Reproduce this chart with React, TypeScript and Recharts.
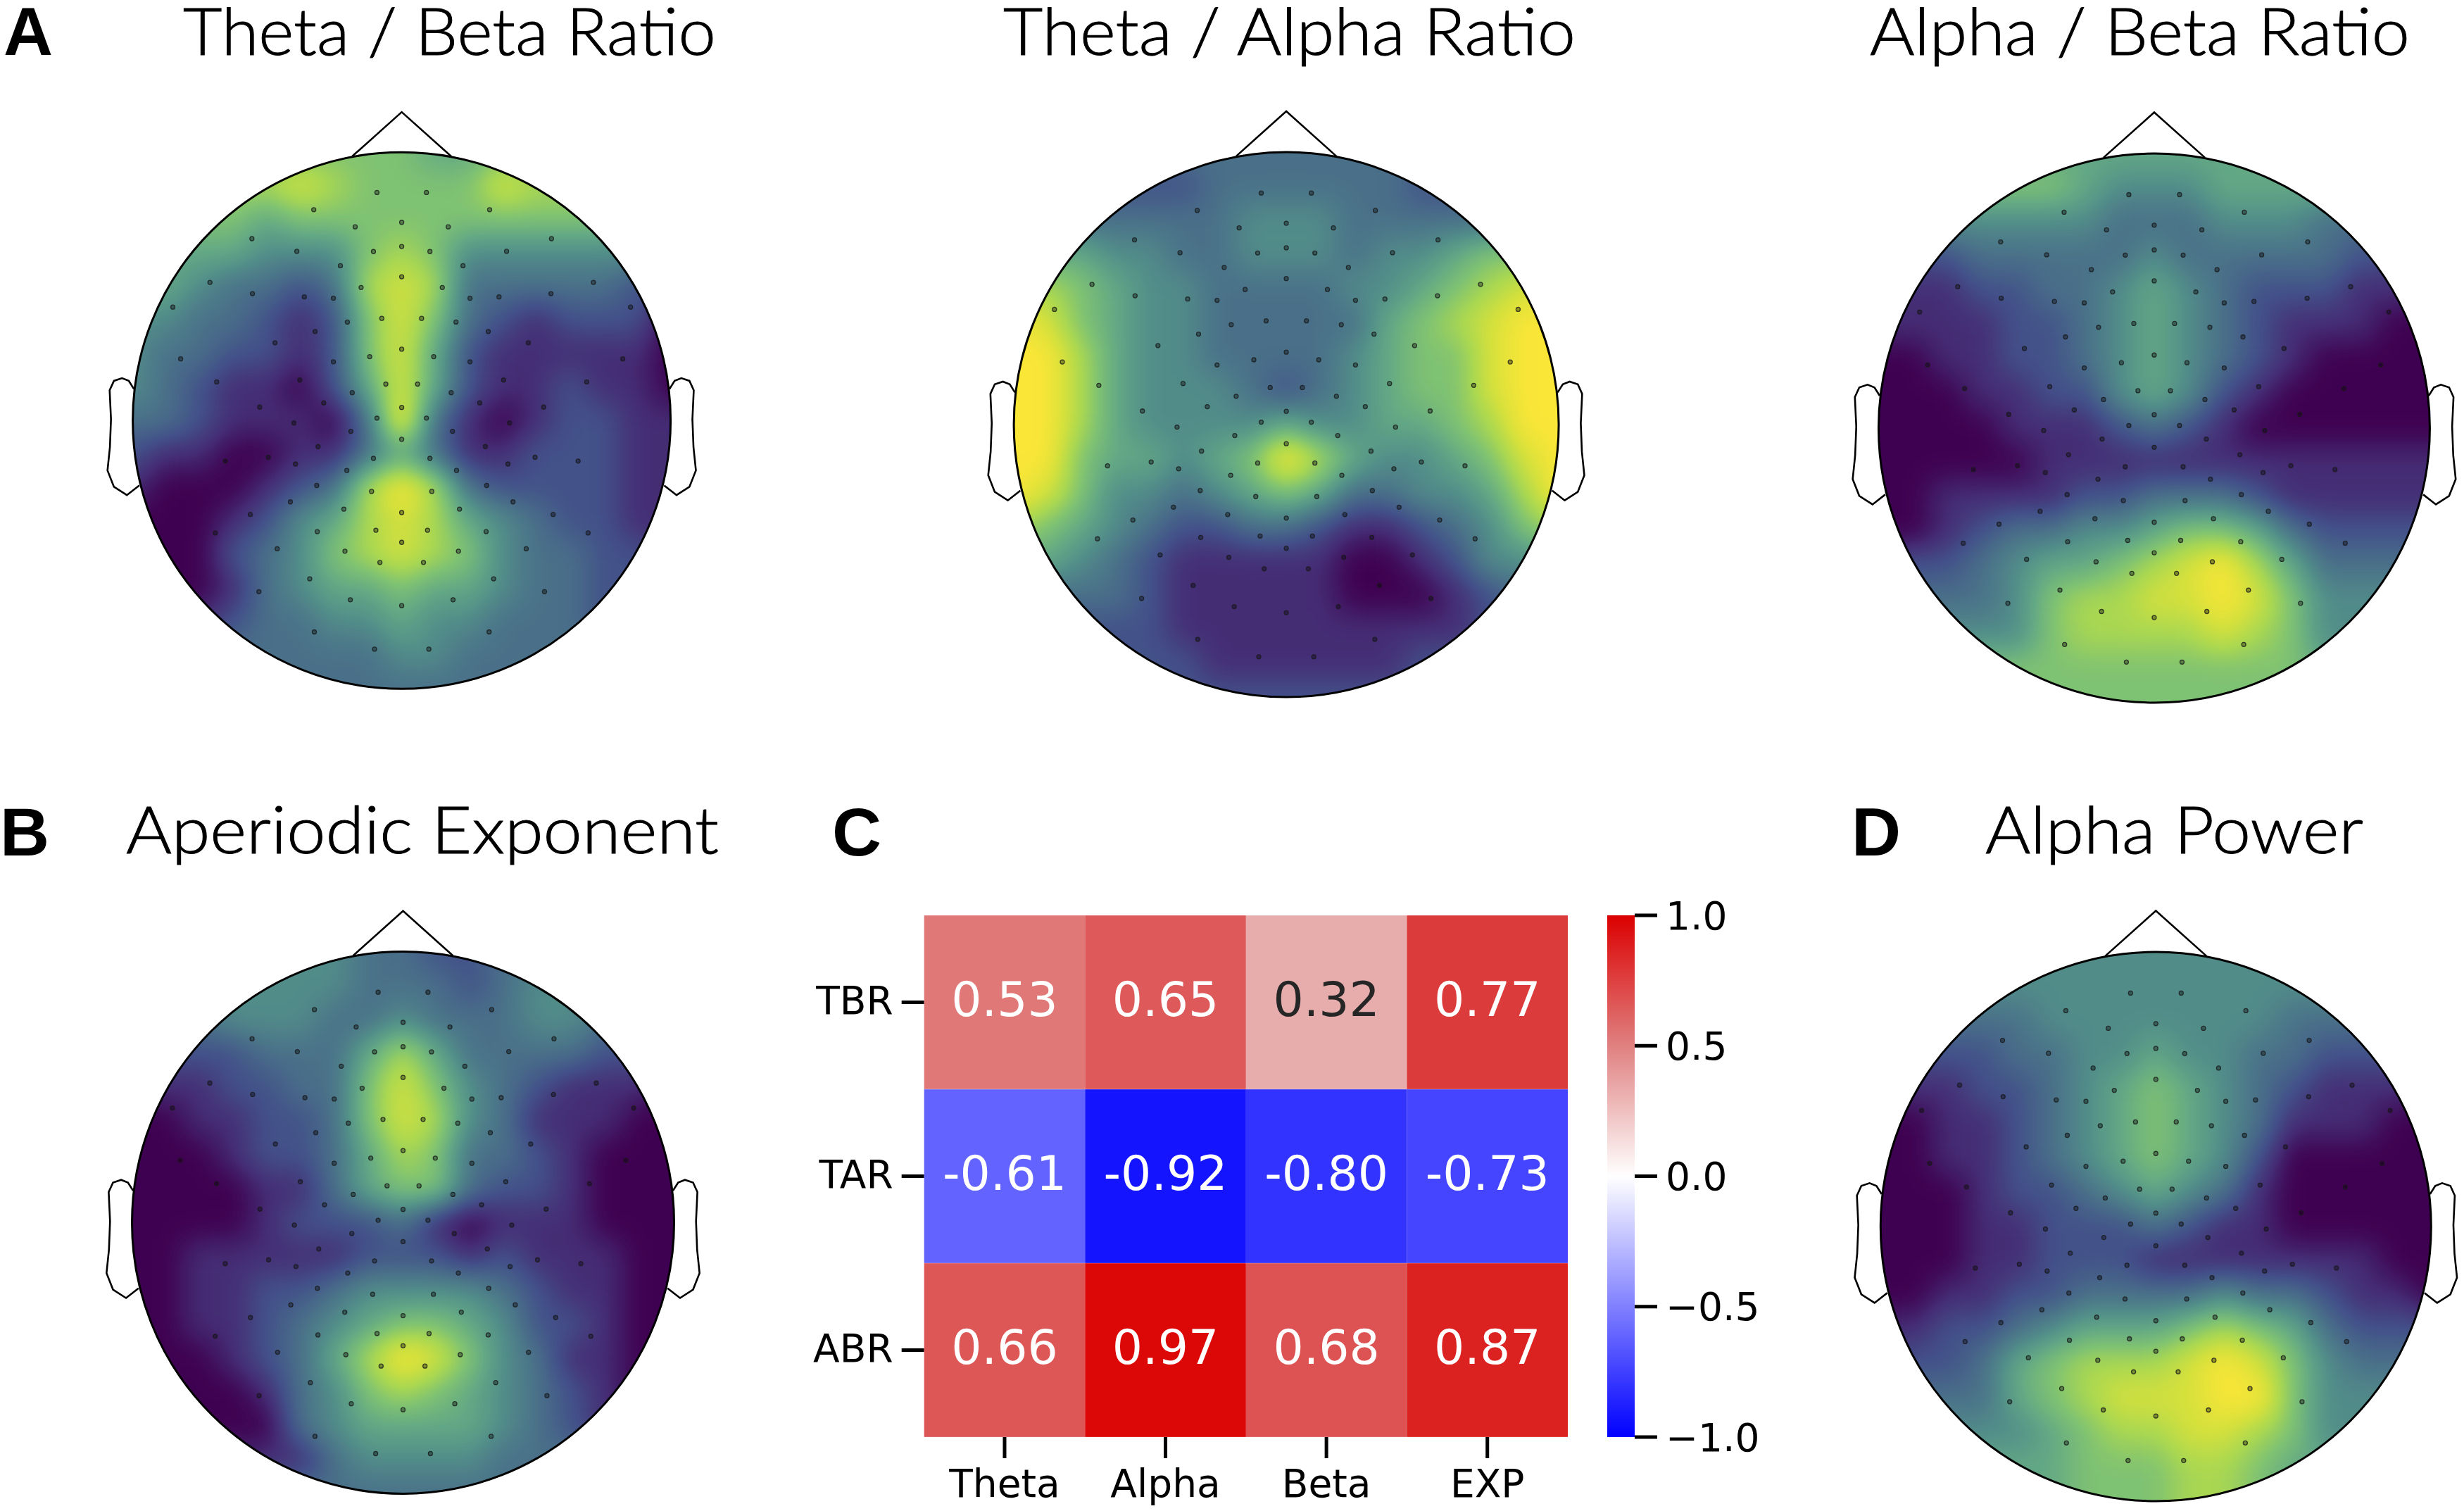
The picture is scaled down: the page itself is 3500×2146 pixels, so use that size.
import { Bar, BarChart, ReferenceDot, Scatter, ScatterChart, XAxis, YAxis } from 'recharts';

// Field levels 0-9, top row to bottom row, left to right
const thetaBetaField = [
    [6, 6, 6, 6, 6, 6, 6, 6, 6, 5, 5, 6, 6, 6, 6, 6, 6],
    [7, 7, 7, 7, 7, 8, 7, 6, 6, 6, 6, 8, 7, 7, 7, 7, 7],
    [6, 6, 6, 6, 5, 6, 6, 6, 6, 6, 6, 6, 6, 6, 6, 6, 6],
    [5, 5, 5, 5, 4, 4, 4, 6, 7, 6, 4, 4, 4, 4, 4, 4, 4],
    [5, 5, 4, 3, 3, 2, 3, 7, 8, 7, 3, 3, 3, 3, 3, 2, 2],
    [4, 4, 3, 3, 2, 1, 2, 6, 8, 6, 3, 2, 1, 2, 2, 2, 0],
    [4, 3, 3, 2, 2, 1, 2, 6, 8, 5, 2, 1, 1, 1, 1, 1, 0],
    [4, 3, 2, 1, 1, 0, 2, 5, 8, 5, 2, 1, 1, 2, 1, 1, 0],
    [3, 3, 2, 1, 1, 1, 0, 3, 9, 3, 1, 0, 1, 2, 2, 1, 1],
    [2, 1, 1, 0, 0, 1, 1, 3, 5, 3, 1, 1, 2, 2, 2, 1, 1],
    [1, 0, 0, 0, 1, 2, 3, 7, 9, 7, 3, 2, 2, 2, 2, 1, 1],
    [0, 0, 0, 1, 2, 4, 5, 7, 8, 7, 5, 4, 3, 2, 2, 1, 1],
    [0, 0, 0, 2, 3, 4, 6, 7, 8, 7, 6, 4, 3, 3, 2, 2, 1],
    [0, 0, 0, 1, 3, 4, 5, 5, 6, 5, 5, 4, 3, 3, 2, 2, 2],
    [1, 1, 1, 2, 3, 3, 4, 4, 5, 4, 4, 3, 3, 3, 2, 2, 2],
    [3, 3, 3, 3, 3, 3, 3, 3, 4, 4, 3, 3, 3, 3, 3, 3, 3],
    [3, 3, 3, 3, 3, 3, 3, 3, 3, 3, 3, 3, 3, 3, 3, 3, 3],
];

const thetaAlphaField = [
    [3, 3, 3, 3, 3, 3, 3, 3, 3, 3, 3, 3, 3, 3, 3, 3, 3],
    [2, 2, 2, 2, 2, 2, 3, 3, 3, 3, 3, 3, 2, 2, 2, 2, 2],
    [3, 3, 3, 3, 3, 3, 3, 4, 4, 4, 3, 3, 3, 3, 3, 3, 3],
    [5, 5, 5, 4, 4, 3, 3, 4, 4, 4, 3, 4, 4, 5, 6, 6, 6],
    [7, 7, 6, 5, 4, 4, 3, 3, 3, 3, 4, 4, 5, 6, 7, 8, 8],
    [9, 8, 6, 5, 4, 4, 3, 3, 3, 3, 3, 5, 6, 7, 8, 9, 9],
    [9, 9, 7, 5, 4, 4, 3, 3, 3, 3, 4, 5, 6, 6, 8, 9, 9],
    [9, 9, 7, 5, 4, 4, 4, 3, 2, 3, 4, 5, 6, 6, 8, 9, 9],
    [9, 9, 7, 5, 4, 4, 4, 4, 5, 4, 4, 5, 5, 6, 7, 9, 9],
    [9, 9, 6, 5, 5, 4, 5, 6, 9, 7, 5, 4, 4, 5, 6, 8, 9],
    [9, 8, 6, 4, 4, 3, 4, 5, 6, 5, 3, 3, 4, 4, 5, 7, 9],
    [7, 6, 5, 4, 3, 2, 2, 3, 3, 2, 1, 1, 2, 3, 4, 6, 7],
    [5, 5, 4, 3, 2, 1, 1, 1, 1, 1, 0, 0, 1, 2, 4, 4, 5],
    [3, 3, 3, 3, 2, 1, 1, 1, 1, 1, 0, 0, 0, 1, 2, 3, 3],
    [2, 2, 2, 2, 2, 1, 1, 1, 1, 1, 1, 1, 1, 1, 2, 2, 2],
    [2, 2, 2, 2, 2, 2, 1, 1, 1, 1, 1, 1, 2, 2, 2, 2, 2],
    [2, 2, 2, 2, 2, 2, 2, 2, 2, 2, 2, 2, 2, 2, 2, 2, 2],
];

const alphaBetaField = [
    [5, 5, 5, 5, 5, 5, 5, 5, 5, 5, 5, 5, 5, 5, 5, 5, 5],
    [6, 6, 6, 6, 6, 6, 5, 4, 4, 4, 5, 5, 5, 5, 5, 5, 5],
    [4, 4, 4, 4, 4, 4, 4, 3, 3, 3, 4, 4, 4, 3, 3, 3, 3],
    [2, 2, 2, 3, 3, 3, 3, 3, 4, 3, 3, 3, 3, 3, 2, 2, 2],
    [1, 1, 1, 2, 2, 3, 3, 4, 5, 4, 3, 2, 2, 2, 1, 1, 1],
    [1, 1, 1, 1, 2, 2, 3, 4, 5, 4, 3, 2, 1, 1, 1, 0, 0],
    [0, 0, 1, 1, 2, 2, 3, 4, 5, 4, 3, 2, 1, 0, 0, 0, 0],
    [0, 0, 0, 1, 1, 2, 2, 4, 5, 4, 2, 1, 0, 0, 0, 0, 0],
    [0, 0, 0, 0, 1, 1, 1, 2, 3, 2, 1, 0, 0, 0, 0, 0, 0],
    [0, 0, 0, 0, 0, 1, 1, 1, 1, 1, 1, 1, 1, 1, 1, 1, 1],
    [0, 0, 1, 1, 1, 1, 2, 2, 3, 3, 3, 2, 1, 1, 1, 1, 1],
    [0, 0, 1, 2, 3, 3, 4, 4, 5, 6, 6, 5, 3, 2, 2, 2, 2],
    [2, 2, 2, 3, 4, 5, 5, 6, 7, 8, 9, 7, 5, 3, 3, 3, 3],
    [3, 3, 3, 3, 4, 6, 7, 7, 8, 8, 9, 8, 6, 4, 4, 4, 4],
    [4, 4, 4, 4, 4, 6, 7, 7, 7, 7, 8, 7, 6, 4, 4, 4, 4],
    [6, 6, 6, 6, 6, 6, 6, 6, 6, 6, 6, 6, 6, 5, 5, 5, 5],
    [6, 6, 6, 6, 6, 6, 6, 6, 6, 6, 6, 6, 6, 5, 5, 5, 5],
];

const aperiodicField = [
    [4, 4, 4, 4, 4, 4, 4, 3, 3, 2, 2, 3, 3, 3, 4, 4, 4],
    [4, 4, 4, 4, 4, 4, 4, 3, 3, 3, 2, 3, 4, 4, 4, 4, 4],
    [3, 3, 3, 4, 4, 4, 3, 3, 4, 3, 3, 3, 4, 4, 3, 3, 3],
    [2, 2, 2, 2, 3, 3, 3, 5, 7, 5, 3, 3, 3, 3, 2, 2, 2],
    [1, 1, 1, 2, 2, 3, 3, 6, 8, 6, 4, 3, 2, 1, 1, 1, 0],
    [0, 0, 1, 1, 2, 2, 3, 6, 8, 7, 4, 3, 1, 1, 1, 0, 0],
    [0, 0, 0, 1, 2, 2, 3, 5, 7, 6, 3, 3, 2, 1, 0, 0, 0],
    [0, 0, 0, 0, 1, 1, 3, 5, 6, 6, 3, 2, 2, 1, 0, 0, 0],
    [0, 0, 0, 0, 1, 2, 2, 2, 3, 1, 0, 1, 1, 1, 0, 0, 0],
    [0, 0, 1, 1, 1, 1, 1, 2, 2, 2, 1, 2, 1, 1, 1, 0, 0],
    [0, 0, 1, 1, 2, 2, 3, 4, 4, 4, 4, 3, 2, 1, 1, 0, 0],
    [0, 0, 1, 1, 2, 3, 4, 5, 6, 6, 5, 4, 2, 2, 1, 0, 0],
    [0, 0, 0, 1, 2, 3, 5, 7, 9, 8, 6, 4, 3, 1, 1, 0, 0],
    [0, 0, 0, 0, 1, 3, 4, 6, 7, 6, 5, 4, 3, 2, 1, 0, 0],
    [0, 0, 0, 0, 0, 3, 4, 5, 5, 5, 5, 4, 3, 2, 1, 0, 0],
    [1, 1, 1, 1, 1, 1, 3, 4, 4, 4, 4, 3, 3, 3, 3, 3, 3],
    [3, 3, 3, 3, 3, 3, 3, 3, 3, 3, 3, 3, 3, 3, 3, 3, 3],
];

const alphaPowerField = [
    [4, 4, 4, 4, 4, 4, 4, 4, 4, 4, 4, 4, 4, 4, 4, 4, 4],
    [4, 4, 4, 4, 4, 4, 4, 4, 4, 4, 4, 4, 4, 4, 4, 4, 4],
    [3, 3, 3, 3, 3, 4, 4, 4, 4, 4, 4, 4, 3, 3, 3, 3, 3],
    [2, 2, 2, 2, 3, 3, 4, 4, 5, 4, 4, 3, 3, 2, 2, 2, 2],
    [1, 1, 1, 2, 2, 3, 4, 5, 6, 5, 4, 3, 2, 1, 1, 1, 1],
    [0, 0, 1, 1, 2, 3, 4, 5, 6, 5, 4, 3, 1, 1, 1, 0, 0],
    [0, 0, 1, 1, 2, 3, 4, 5, 6, 5, 4, 2, 0, 0, 0, 0, 0],
    [0, 0, 0, 1, 2, 2, 3, 4, 5, 4, 3, 1, 0, 0, 0, 0, 0],
    [0, 0, 0, 1, 1, 2, 2, 2, 3, 2, 1, 1, 0, 0, 0, 0, 0],
    [0, 0, 0, 1, 1, 2, 2, 2, 1, 1, 1, 1, 1, 1, 1, 0, 0],
    [0, 0, 1, 1, 2, 2, 3, 3, 3, 3, 4, 3, 3, 2, 1, 1, 0],
    [1, 1, 2, 2, 3, 4, 5, 5, 5, 6, 7, 6, 5, 3, 2, 2, 2],
    [2, 2, 2, 3, 5, 6, 7, 7, 7, 8, 9, 8, 6, 4, 3, 3, 3],
    [3, 3, 3, 3, 5, 6, 7, 8, 8, 8, 9, 9, 6, 4, 4, 4, 4],
    [4, 4, 4, 4, 4, 5, 6, 7, 7, 8, 8, 7, 6, 4, 4, 4, 4],
    [5, 5, 5, 5, 5, 5, 6, 6, 6, 7, 7, 6, 5, 5, 5, 5, 5],
    [5, 5, 5, 5, 5, 5, 6, 6, 6, 7, 7, 6, 5, 5, 5, 5, 5],
];

// Right half of the sensor layout, in head radii; mirrored when the points are built
const electrodeX = [0.092, 0.327, 0, 0.173, 0.557, 0, 0.39, 0.105, 0.228, 0, 0.713, 0.151, 0.555, 0.362, 0.254, 0.851, 0.202, 0.074, 0.322, 0.471, 0, 0.119, 0.254, 0.822, 0.688, 0.379, 0.059, 0.184, 0.29, 0.528, 0, 0.092, 0.401, 0.189, 0, 0.311, 0.105, 0.496, 0.656, 0.395, 0.204, 0.316, 0.112, 0.414, 0.215, 0, 0.563, 0.314, 0.096, 0.693, 0, 0.463, 0.211, 0.081, 0.342, 0.531, 0.191, 0, 0.325, 0.101];
const electrodeY = [0.85, 0.786, 0.739, 0.722, 0.678, 0.649, 0.631, 0.63, 0.577, 0.536, 0.515, 0.496, 0.473, 0.461, 0.456, 0.423, 0.367, 0.381, 0.332, 0.29, 0.266, 0.238, 0.219, 0.23, 0.144, 0.151, 0.136, 0.104, 0.066, 0.05, 0.049, 0.009, -0.009, -0.04, -0.07, -0.097, -0.141, -0.137, -0.151, -0.162, -0.186, -0.242, -0.264, -0.303, -0.33, -0.343, -0.35, -0.414, -0.409, -0.419, -0.454, -0.478, -0.487, -0.529, -0.59, -0.638, -0.668, -0.69, -0.788, -0.852];

const noseOutline = [{ x: -0.184, y: 0.985 }, { x: 0, y: 1.15 }, { x: 0.184, y: 0.985 }];
const earX = [0.996, 1.015, 1.04, 1.07, 1.086, 1.081, 1.085, 1.094, 1.07, 1.022, 0.976];
const earY = [0.118, 0.148, 0.158, 0.148, 0.113, 0.005, -0.099, -0.186, -0.247, -0.278, -0.242];

const heatRows = ['TBR', 'TAR', 'ABR'];
const heatColumns = ['Theta', 'Alpha', 'Beta', 'EXP'];
const tbrValues = [0.53, 0.65, 0.32, 0.77];
const tarValues = [-0.61, -0.92, -0.8, -0.73];
const abrValues = [0.66, 0.97, 0.68, 0.87];
const colorbarTicks = [-1, -0.5, 0, 0.5, 1];

const viridisLevels = ['#3f0050', '#452e75', '#43528a', '#4a7189', '#528d8a', '#63a885', '#7fc273', '#aad851', '#d6e13c', '#fbe637'];

const GRID_STEP = 0.125;
const HEAD_DOMAIN = 1.3;

const channelTable = (start: number) =>
    viridisLevels.map((c) => (parseInt(c.slice(start, start + 2), 16) / 255).toFixed(3)).join(' ');

const fieldPoints = (rows: number[][]) =>
    rows.flatMap((row, r) =>
        row.map((level, c) => ({ x: -1 + c * GRID_STEP, y: 1 - r * GRID_STEP, level, r, c })),
    );

const electrodes = electrodeX.flatMap((x, i) =>
    x === 0 ? [{ x, y: electrodeY[i] }] : [{ x: -x, y: electrodeY[i] }, { x, y: electrodeY[i] }],
);
const rightEar = earX.map((x, i) => ({ x, y: earY[i] }));
const leftEar = earX.map((x, i) => ({ x: -x, y: earY[i] }));

const heatCells = [tbrValues, tarValues, abrValues].flatMap((row, r) =>
    row.map((value, c) => ({ x: c + 0.5, y: r + 0.5, value })),
);

const heatColor = (v: number) => {
    if (v < 0) {
        const g = Math.round((1 + v) * 255);
        return `rgb(${g},${g},255)`;
    }
    const g = Math.round((1 - v) * 255);
    return `rgb(${Math.round(220 + 35 * (1 - v) ** 3)},${g},${g})`;
};

interface TopomapProps {
    field: number[][];
    cx: number;
    cy: number;
    rx: number;
    ry: number;
}

function Topomap({ field, cx, cy, rx, ry }: TopomapProps) {
    const width = rx * 2 * HEAD_DOMAIN;
    const height = ry * 2 * HEAD_DOMAIN;
    const box = { position: 'absolute' as const, left: cx - width / 2, top: cy - height / 2, width, height };
    const cellW = rx * GRID_STEP;
    const cellH = ry * GRID_STEP;
    const axes = [
        <XAxis key="x" type="number" dataKey="x" domain={[-HEAD_DOMAIN, HEAD_DOMAIN]} hide />,
        <YAxis key="y" type="number" dataKey="y" domain={[-HEAD_DOMAIN, HEAD_DOMAIN]} hide />,
    ];

    const FieldCell = (props: any) => {
        const { cx: px, cy: py, payload } = props;
        // edge cells run on past the head so the blur never fades inside it
        const left = payload.c === 0 ? 60 : 0;
        const right = payload.c === 16 ? 60 : 0;
        const top = payload.r === 0 ? 60 : 0;
        const bottom = payload.r === 16 ? 60 : 0;
        const g = Math.round((payload.level / 9) * 255);
        return (
            <rect
                x={px - cellW / 2 - left - 0.5}
                y={py - cellH / 2 - top - 0.5}
                width={cellW + left + right + 1}
                height={cellH + top + bottom + 1}
                fill={`rgb(${g},${g},${g})`}
            />
        );
    };

    return (
        <>
            <div style={{ ...box, clipPath: `ellipse(${rx}px ${ry}px at 50% 50%)` }}>
                <ScatterChart width={width} height={height} margin={{ top: 0, right: 0, bottom: 0, left: 0 }}>
                    {axes}
                    <Scatter className="topo-field" data={fieldPoints(field)} shape={FieldCell} isAnimationActive={false} />
                </ScatterChart>
            </div>
            <div style={box}>
                <ScatterChart width={width} height={height} margin={{ top: 0, right: 0, bottom: 0, left: 0 }}>
                    {axes}
                    <Scatter data={noseOutline} line={{ stroke: '#000', strokeWidth: 2.6 }} shape={() => <g />} isAnimationActive={false} />
                    <Scatter data={leftEar} line={{ stroke: '#000', strokeWidth: 2.6 }} shape={() => <g />} isAnimationActive={false} />
                    <Scatter data={rightEar} line={{ stroke: '#000', strokeWidth: 2.6 }} shape={() => <g />} isAnimationActive={false} />
                    <Scatter
                        data={electrodes}
                        isAnimationActive={false}
                        shape={(p: any) => (
                            <circle cx={p.cx} cy={p.cy} r={3} fill="#000" fillOpacity={0.35} stroke="#1a1a1a" strokeOpacity={0.8} strokeWidth={1.3} />
                        )}
                    />
                    <ReferenceDot
                        x={0}
                        y={0}
                        ifOverflow="visible"
                        shape={(p: any) => <ellipse cx={p.cx} cy={p.cy} rx={rx} ry={ry} fill="none" stroke="#000" strokeWidth={3} />}
                    />
                </ScatterChart>
            </div>
        </>
    );
}

const HeatCell = (props: any) => {
    const { cx, cy, payload } = props;
    const w = 228.6;
    const h = 246.7;
    return (
        <g>
            <rect x={cx - w / 2} y={cy - h / 2} width={w} height={h} fill={heatColor(payload.value)} />
            <text
                x={cx}
                y={cy + 19}
                textAnchor="middle"
                fontFamily="DejaVu Sans"
                fontSize={68}
                fill={payload.value === 0.32 ? '#262626' : '#fff'}
            >
                {payload.value.toFixed(2)}
            </text>
        </g>
    );
};

function Heatmap() {
    return (
        <div style={{ position: 'absolute', left: 1100, top: 1250 }}>
            <ScatterChart width={1127} height={896} margin={{ top: 50, right: 0, bottom: 0, left: 0 }}>
                <XAxis
                    type="number"
                    dataKey="x"
                    domain={[0, 4]}
                    ticks={[0.5, 1.5, 2.5, 3.5]}
                    interval={0}
                    height={105}
                    tickSize={30}
                    tickMargin={16}
                    axisLine={false}
                    tickLine={{ stroke: '#000', strokeWidth: 5 }}
                    tick={{ fontSize: 55, fontFamily: 'DejaVu Sans', fill: '#000' }}
                    tickFormatter={(v: number) => heatColumns[Math.floor(v)]}
                />
                <YAxis
                    type="number"
                    dataKey="y"
                    domain={[0, 3]}
                    reversed
                    ticks={[0.5, 1.5, 2.5]}
                    interval={0}
                    width={212.7}
                    tickSize={32}
                    tickMargin={12}
                    axisLine={false}
                    tickLine={{ stroke: '#000', strokeWidth: 5 }}
                    tick={{ fontSize: 55, fontFamily: 'DejaVu Sans', fill: '#000', dy: -3 }}
                    tickFormatter={(v: number) => heatRows[Math.floor(v)]}
                />
                <Scatter data={heatCells} shape={HeatCell} isAnimationActive={false} />
            </ScatterChart>
        </div>
    );
}

function Colorbar() {
    return (
        <div style={{ position: 'absolute', left: 2283, top: 1250 }}>
            <BarChart
                width={300}
                height={896}
                data={[{ name: 'r', range: [-1, 1] }]}
                margin={{ top: 50, right: 0, bottom: 105, left: 0 }}
                barCategoryGap={0}
            >
                <defs>
                    <linearGradient id="bwrScale" x1="0" y1="0" x2="0" y2="1">
                        <stop offset="0%" stopColor="#dc0000" />
                        <stop offset="25%" stopColor="#e08080" />
                        <stop offset="50%" stopColor="#ffffff" />
                        <stop offset="75%" stopColor="#8080ff" />
                        <stop offset="100%" stopColor="#0000ff" />
                    </linearGradient>
                </defs>
                <XAxis dataKey="name" hide />
                <YAxis
                    orientation="right"
                    type="number"
                    domain={[-1, 1]}
                    ticks={colorbarTicks}
                    interval={0}
                    width={261}
                    tickSize={32}
                    tickMargin={12}
                    axisLine={false}
                    tickLine={{ stroke: '#000', strokeWidth: 5 }}
                    tick={{ fontSize: 55, fontFamily: 'DejaVu Sans', fill: '#000' }}
                    tickFormatter={(v: number) => v.toFixed(1).replace('-', '\u2212')}
                />
                <Bar dataKey="range" fill="url(#bwrScale)" isAnimationActive={false} />
            </BarChart>
        </div>
    );
}

const panelTitles = [
    { text: 'Theta / Beta Ratio', x: 260, y: 78, width: 757 },
    { text: 'Theta / Alpha Ratio', x: 1425, y: 78, width: 813 },
    { text: 'Alpha / Beta Ratio', x: 2656, y: 78, width: 767 },
    { text: 'Aperiodic Exponent', x: 179, y: 1212, width: 842 },
    { text: 'Alpha Power', x: 2820, y: 1212, width: 537 },
];

const panelLetters = [
    { text: 'A', x: 5, y: 78 },
    { text: 'B', x: 0, y: 1215 },
    { text: 'C', x: 1182, y: 1215 },
    { text: 'D', x: 2630, y: 1215 },
];

export default function App() {
    return (
        <div style={{ position: 'absolute', left: 0, top: 0, width: 3500, height: 2146, background: '#fff', overflow: 'hidden' }}>
            <style>{'.topo-field { filter: url(#topoColor); }'}</style>
            <svg width={0} height={0} style={{ position: 'absolute' }}>
                <filter id="topoColor" x="-10%" y="-10%" width="120%" height="120%" colorInterpolationFilters="sRGB">
                    <feGaussianBlur stdDeviation={22} />
                    <feComponentTransfer>
                        <feFuncR type="table" tableValues={channelTable(1)} />
                        <feFuncG type="table" tableValues={channelTable(3)} />
                        <feFuncB type="table" tableValues={channelTable(5)} />
                    </feComponentTransfer>
                </filter>
            </svg>
            <Topomap field={thetaBetaField} cx={571} cy={597.5} rx={382} ry={381} />
            <Topomap field={thetaAlphaField} cx={1827} cy={603} rx={387} ry={387} />
            <Topomap field={alphaBetaField} cx={3060} cy={608} rx={391.5} ry={390} />
            <Topomap field={aperiodicField} cx={572.5} cy={1736} rx={385} ry={385} />
            <Topomap field={alphaPowerField} cx={3062} cy={1742} rx={391} ry={390} />
            <Heatmap />
            <Colorbar />
            <svg width={3500} height={2146} style={{ position: 'absolute', left: 0, top: 0, pointerEvents: 'none' }}>
                {panelTitles.map((t) => (
                    <text key={t.text} x={t.x} y={t.y} fontFamily="Lato" fontWeight={300} fontSize={92} fill="#000" stroke="#000" strokeWidth={1} textLength={t.width} lengthAdjust="spacingAndGlyphs">
                        {t.text}
                    </text>
                ))}
                {panelLetters.map((t) => (
                    <text key={t.text} x={t.x} y={t.y} fontFamily="Liberation Sans" fontWeight={700} fontSize={97} fill="#000">
                        {t.text}
                    </text>
                ))}
            </svg>
        </div>
    );
}
